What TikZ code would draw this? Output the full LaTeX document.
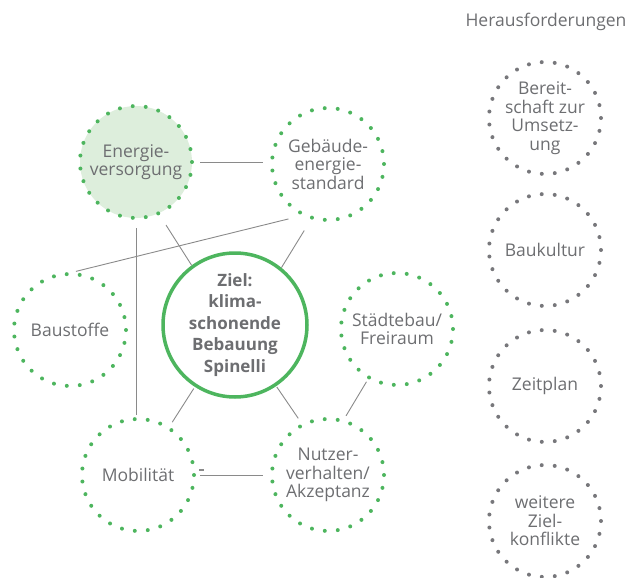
\documentclass[tikz,border=0pt]{standalone}
\usepackage{fontspec}
\setmainfont{Open Sans}
\usepackage{xcolor}
\definecolor{zielgreen}{HTML}{4DB55E}
\definecolor{softgreen}{HTML}{DDEEDC}
\definecolor{dotgrey}{HTML}{77777B}
\definecolor{textgrey}{HTML}{6D6E71}
\definecolor{linkgrey}{HTML}{8A8A8A}
\usetikzlibrary{calc}

\tikzset{
  field/.style={circle, draw=zielgreen, line width=4pt, line cap=round,
    dash pattern=on 0pt off 13.03pt, minimum size=112pt, inner sep=0pt,
    align=center, text=textgrey, font=\fontsize{17.5}{18.5}\selectfont},
  challenge/.style={field, draw=dotgrey},
  goal/.style={circle, draw=zielgreen, line width=3.5pt, minimum size=144pt,
    inner sep=0pt, fill=white, align=center, text=textgrey,
    font=\fontsize{17}{21.5}\selectfont\bfseries},
  link/.style={draw=linkgrey, line width=0.9pt},
}

\begin{document}
\begin{tikzpicture}[x=1pt, y=-1pt]
  \useasboundingbox (0,0) rectangle (630,578);

  % goal and fields
  \node[goal] (ziel) at (235,325) {Ziel:\\klima-\\schonende\\Bebauung\\Spinelli};
  \node[field, fill=softgreen] (energie) at (136,162) {Energie-\\versorgung};
  \node[field] (gebaeude) at (328,164) {Gebäude-\\energie-\\standard};
  \node[field] (baustoffe) at (70,330) {Baustoffe};
  \node[field] (staedtebau) at (397,329) {Städtebau/\\Freiraum};
  \node[field] (mobilitaet) at (138,475) {Mobilität};
  \node[field] (nutzer) at (328,475) {Nutzer-\\verhalten/\\Akzeptanz};

  % challenges
  \node[text=textgrey, font=\fontsize{17.5}{18.5}\selectfont] (heraus) at (546,22) {Herausforderungen};
  \node[challenge] (bereitschaft) at (545,118) {Bereit-\\schaft zur\\Umsetz-\\ung};
  \node[challenge] (baukultur) at (545,250) {Baukultur};
  \node[challenge] (zeitplan) at (545,386) {Zeitplan};
  \node[challenge] (konflikte) at (545,521) {weitere\\Ziel-\\konflikte};

  % links
  \draw[link, shorten <=6pt, shorten >=7pt] (energie.east) -- (energie.east -| gebaeude.west);
  \draw[link, shorten <=12pt] (energie.-66) -- (ziel.126);
  \draw[link, shorten <=13pt] (gebaeude.253) -- (ziel.51);
  \draw[link, shorten <=13.6pt, shorten >=3pt] (gebaeude.243) -- (baustoffe.87);
  \draw[link, shorten <=8pt, shorten >=2pt] (energie.south) -- (energie.south |- mobilitaet.north);
  \draw[link, shorten <=2pt, shorten >=5pt] (ziel.237) -- (mobilitaet.57);
  \draw[link, shorten <=1pt, shorten >=6pt] (ziel.304) -- (nutzer.117);
  \draw[link, shorten <=3pt, shorten >=4pt] (staedtebau.240) -- (nutzer.74);
  \draw[link, shorten <=4pt, shorten >=7pt] (mobilitaet.east) -- (nutzer.west);
  \fill[linkgrey] (199,468.5) rectangle (203.5,471);
\end{tikzpicture}
\end{document}
